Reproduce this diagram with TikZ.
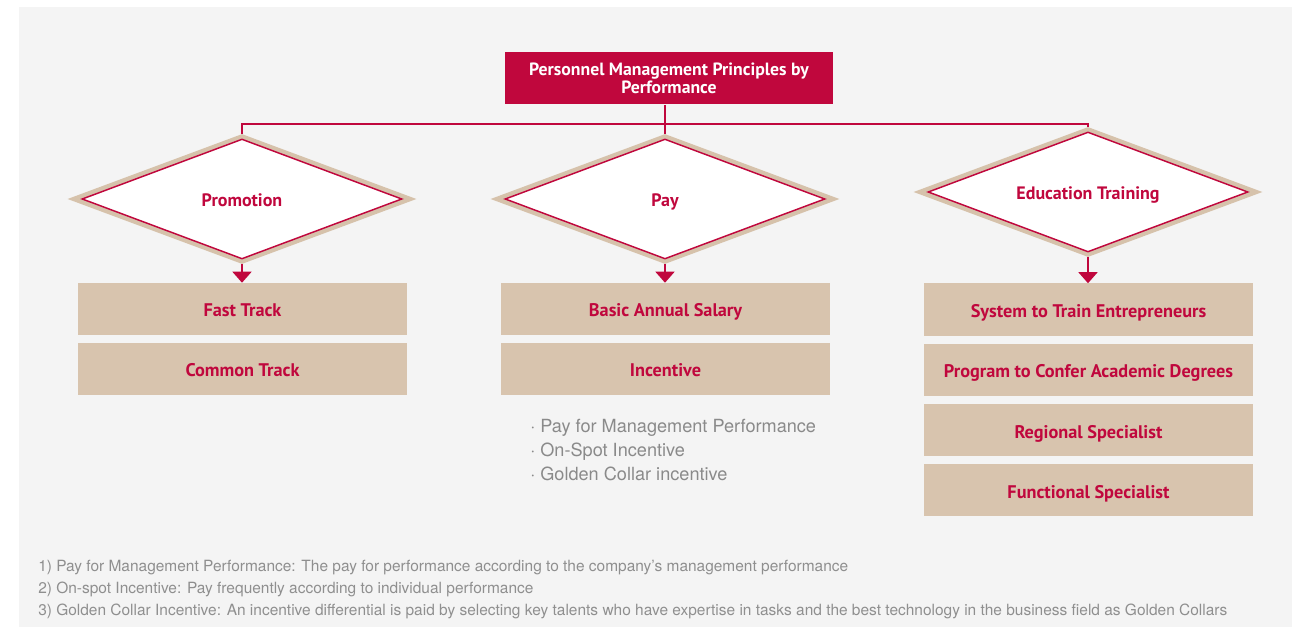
\documentclass[tikz,border=0pt]{standalone}
\usepackage{fontspec}
\setmainfont{TeX Gyre Heros}
\newfontfamily\boxfont{PT Sans}
\usetikzlibrary{shapes.geometric,arrows.meta}
\definecolor{crim}{HTML}{C0073D}
\definecolor{tanb}{HTML}{D8C4AE}
\definecolor{tand}{HTML}{D6C2AB}
\definecolor{panel}{HTML}{F4F4F4}
\definecolor{graytxt}{HTML}{8A8A8A}
\definecolor{graynote}{HTML}{8F8F8F}
\tikzset{
  conn/.style={draw=crim,line width=1.1pt},
  arr/.style={conn,-{Triangle[width=14.25pt,length=8.25pt]}},
  topbox/.style={fill=crim,text=white,minimum width=328*0.75pt,minimum height=52*0.75pt,inner sep=0pt,align=center,font=\boxfont\bfseries\fontsize{13.3}{13.8}\selectfont},
  dmo/.style={diamond,fill=tand,inner sep=0pt,minimum width=349*0.75pt,minimum height=130*0.75pt},
  dmi/.style={diamond,fill=white,draw=crim,line width=1.1pt,inner sep=0pt,minimum width=320*0.75pt,minimum height=120*0.75pt,text=crim,text height=11.8pt,text depth=0pt,font=\boxfont\bfseries\fontsize{13.5}{15}\selectfont},
  itembox/.style={fill=tanb,minimum width=329*0.75pt,minimum height=52*0.75pt,inner sep=0pt,text=crim,text height=11.8pt,text depth=0pt,font=\boxfont\bfseries\fontsize{13.7}{15}\selectfont},
  bullet/.style={anchor=base west,inner sep=0pt,text=graytxt,font=\fontsize{13.6}{15}\selectfont},
  note/.style={anchor=base west,inner sep=0pt,text=graynote,font=\fontsize{11.6}{14}\selectfont}
}
\begin{document}
\begin{tikzpicture}[x=0.75pt,y=-0.75pt]
\useasboundingbox (0,0) rectangle (1292,627);
\fill[white] (0,0) rectangle (1292,627);
\fill[panel] (19,7) rectangle (1292,627);

\node[topbox] (top) at (669,78.5) {Personnel Management Principles by\\Performance};

\node[dmo] (pro-o) at (242,199) {};
\node[dmi] (pro) at (242,199) {\makebox[0pt]{Promotion}};
\node[dmo] (pay-o) at (665,199) {};
\node[dmi] (pay) at (665,199) {\makebox[0pt]{Pay}};
\node[dmo] (edu-o) at (1088,192) {};
\node[dmi] (edu) at (1088,192) {\makebox[0pt]{Education Training}};

\coordinate (bus) at (665,124);
\draw[conn] (pay-o.north |- top.south) -- (pay-o.north);
\draw[conn] (pro-o.north) -- (pro-o.north |- bus) -- (edu-o.north |- bus) -- (edu-o.north);

\node[itembox] (fast) at (242.5,309) {Fast Track};
\node[itembox] (common) at (242.5,369) {Common Track};
\node[itembox] (salary) at (665.5,309) {Basic Annual Salary};
\node[itembox] (incent) at (665.5,369) {Incentive};
\node[itembox] (ent) at (1088.5,309.5) {System to Train Entrepreneurs};
\node[itembox] (deg) at (1088.5,369.5) {Program to Confer Academic Degrees};
\node[itembox] (reg) at (1088.5,430.3) {Regional Specialist};
\node[itembox] (func) at (1088.5,490.3) {Functional Specialist};

\draw[arr] (pro-o.south) -- (pro-o.south |- fast.north);
\draw[arr] (pay-o.south) -- (pay-o.south |- salary.north);
\draw[arr] (edu-o.south) -- (edu-o.south |- ent.north);

\node[bullet] (b1) at (530,432.7) {· Pay for Management Performance};
\node[bullet] (b2) at (530,456.7) {· On-Spot Incentive};
\node[bullet] (b3) at (530,480.7) {· Golden Collar incentive};

\node[note] (n1) at (38,571) {1) Pay for Management Performance: The pay for performance according to the company’s management performance};
\node[note] (n2) at (38,593) {2) On-spot Incentive: Pay frequently according to individual performance};
\node[note] (n3) at (38,615) {3) Golden Collar Incentive: An incentive differential is paid by selecting key talents who have expertise in tasks and the best technology in the business field as Golden Collars};
\end{tikzpicture}
\end{document}
